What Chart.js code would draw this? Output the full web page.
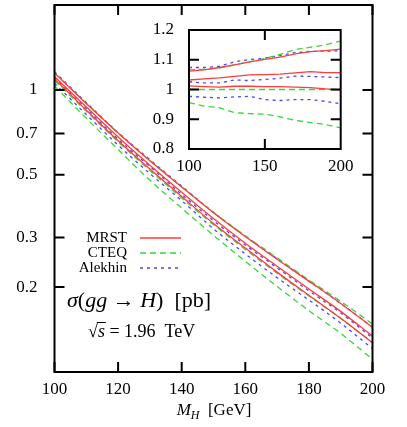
<!DOCTYPE html>
<html>
<head>
<meta charset="utf-8">
<script src="https://cdn.jsdelivr.net/npm/chart.js@4"></script>
<style>
body { margin: 0; background: #fff; }
#wrap { position: relative; width: 407px; height: 427px; }
#main { position: absolute; left: 0; top: 0; }
#inset { position: absolute; left: 140px; top: 15px; }
</style>
</head>
<body>
<div id="wrap">
  <canvas id="main" width="407" height="427"></canvas>
  <canvas id="inset" width="220" height="170"></canvas>
</div>
<script>
// Higgs mass points, GeV
let mh = [100, 110, 120, 130, 140, 150, 160, 170, 180, 190, 200]

// sigma(gg -> H) in pb
let mrstUp = [1.147, 0.895, 0.704, 0.561, 0.453, 0.367, 0.302, 0.251, 0.210, 0.175, 0.144]
let mrst = [1.115, 0.870, 0.681, 0.541, 0.434, 0.350, 0.286, 0.237, 0.197, 0.164, 0.134]
let mrstDn = [1.093, 0.848, 0.660, 0.524, 0.419, 0.336, 0.275, 0.226, 0.187, 0.155, 0.127]
let cteqUp = [1.151, 0.897, 0.702, 0.561, 0.453, 0.368, 0.304, 0.254, 0.212, 0.178, 0.148]
let cteq = [1.080, 0.840, 0.655, 0.518, 0.414, 0.333, 0.272, 0.224, 0.186, 0.155, 0.127]
let cteqDn = [1.033, 0.793, 0.615, 0.478, 0.381, 0.305, 0.247, 0.201, 0.165, 0.137, 0.111]
let alekUp = [1.160, 0.902, 0.706, 0.566, 0.456, 0.368, 0.303, 0.252, 0.210, 0.175, 0.144]
let alek = [1.108, 0.859, 0.669, 0.535, 0.426, 0.344, 0.282, 0.234, 0.194, 0.162, 0.132]
let alekDn = [1.055, 0.818, 0.637, 0.505, 0.405, 0.322, 0.262, 0.216, 0.180, 0.149, 0.121]

// ratios to CTEQ central
let rMrstUp = [1.062, 1.066, 1.074, 1.083, 1.093, 1.101, 1.109, 1.120, 1.127, 1.131, 1.136]
let rMrst = [1.032, 1.036, 1.039, 1.044, 1.049, 1.050, 1.052, 1.056, 1.060, 1.057, 1.057]
let rMrstDn = [1.012, 1.010, 1.008, 1.011, 1.011, 1.010, 1.010, 1.008, 1.006, 1.002, 0.998]
let rCteqUp = [1.066, 1.068, 1.072, 1.083, 1.093, 1.104, 1.118, 1.134, 1.142, 1.150, 1.163]
let rCteq = [1.000, 1.000, 1.000, 1.000, 1.000, 1.000, 1.000, 1.000, 1.000, 1.000, 1.000]
let rCteqDn = [0.956, 0.944, 0.939, 0.922, 0.919, 0.917, 0.908, 0.896, 0.889, 0.882, 0.871]
let rAlekUp = [1.074, 1.074, 1.078, 1.093, 1.101, 1.105, 1.114, 1.124, 1.128, 1.129, 1.130]
let rAlek = [1.026, 1.022, 1.022, 1.032, 1.030, 1.034, 1.038, 1.045, 1.044, 1.042, 1.040]
let rAlekDn = [0.977, 0.974, 0.972, 0.975, 0.977, 0.966, 0.963, 0.966, 0.966, 0.960, 0.952]

let xTicks = [100, 120, 140, 160, 180, 200]
let yTicks = [0.2, 0.3, 0.5, 0.7, 1]
let insetXTicks = [100, 150, 200]
let insetYTicks = [0.8, 0.9, 1, 1.1, 1.2]

let legendNames = ['MRST', 'CTEQ', 'Alekhin']

const RED = '#ff3b3b'
const GREEN = '#35d935'
const BLUE = '#4646ff'
const SERIF = '"Liberation Serif", "Times New Roman", serif'

function pts(ys) {
    return ys.map((y, i) => ({ x: mh[i], y: y }))
}

function line(ys, color, dash) {
    return {
        data: pts(ys),
        borderColor: color,
        borderWidth: 1.3,
        borderDash: dash,
        pointRadius: 0,
        fill: false,
        cubicInterpolationMode: 'monotone'
    }
}

let solid = [], dashed = [6, 4], dotted = [3, 4]

// black frame + inward ticks on all four sides
const frame = {
    id: 'frame',
    afterDatasetsDraw(chart, args, o) {
        let ctx = chart.ctx, a = chart.chartArea, sx = chart.scales.x, sy = chart.scales.y
        ctx.save()
        ctx.strokeStyle = '#000'
        ctx.lineWidth = 2
        ctx.beginPath()
        o.xt.forEach(v => {
            let p = sx.getPixelForValue(v)
            ctx.moveTo(p, a.bottom); ctx.lineTo(p, a.bottom - o.len)
            ctx.moveTo(p, a.top); ctx.lineTo(p, a.top + o.len)
        })
        o.yt.forEach(v => {
            let p = sy.getPixelForValue(v)
            ctx.moveTo(a.left, p); ctx.lineTo(a.left + o.len, p)
            ctx.moveTo(a.right, p); ctx.lineTo(a.right - o.len, p)
        })
        ctx.stroke()
        ctx.strokeRect(a.left, a.top, a.right - a.left, a.bottom - a.top)
        ctx.restore()
    }
}

function parts(ctx, x, y, list) {
    list.forEach(p => {
        ctx.font = p[1]
        ctx.fillText(p[0], x, y + (p[2] || 0))
        x += ctx.measureText(p[0]).width
    })
    return x
}

function partsWidth(ctx, list) {
    let w = 0
    list.forEach(p => { ctx.font = p[1]; w += ctx.measureText(p[0]).width })
    return w
}

// legend, labels and axis title of the main panel
const notes = {
    id: 'notes',
    afterDraw(chart) {
        let ctx = chart.ctx
        ctx.save()
        ctx.fillStyle = '#000'
        ctx.textBaseline = 'middle'
        ctx.textAlign = 'right'
        ctx.font = '15px ' + SERIF
        let cols = [RED, GREEN, BLUE], dashes = [solid, dashed, dotted]
        legendNames.forEach((n, i) => {
            let y = 238 + i * 15
            ctx.fillText(n, 127, y)
            ctx.beginPath()
            ctx.strokeStyle = cols[i]
            ctx.lineWidth = 1.3
            ctx.setLineDash(dashes[i])
            ctx.moveTo(140, y); ctx.lineTo(181, y)
            ctx.stroke()
        })
        ctx.setLineDash([])
        ctx.textAlign = 'left'
        ctx.textBaseline = 'alphabetic'

        let it = 'italic 22px ' + SERIF, up = '22px ' + SERIF
        parts(ctx, 67, 307, [['σ', it], ['(', up], ['gg', it], [' → ', up], ['H', it], [')', up], ['  [pb]', up]])

        let up2 = '18px ' + SERIF, it2 = 'italic 18px ' + SERIF
        let x0 = parts(ctx, 88, 337, [['√', up2]])
        let x1 = parts(ctx, x0, 337, [['s', it2]])
        parts(ctx, x1, 337, [[' = 1.96  TeV', up2]])
        ctx.beginPath()
        ctx.strokeStyle = '#000'
        ctx.lineWidth = 1
        ctx.moveTo(x0 - 1, 322.5); ctx.lineTo(x1 + 1, 322.5)
        ctx.stroke()

        let title = [['M', 'italic 17px ' + SERIF], ['H', 'italic 12px ' + SERIF, 4], ['  [GeV]', '17px ' + SERIF]]
        let w = partsWidth(ctx, title)
        parts(ctx, 214 - w / 2, 415, title)
        ctx.restore()
    }
}

const white = {
    id: 'white',
    beforeDraw(chart) {
        let a = chart.chartArea
        chart.ctx.save()
        chart.ctx.fillStyle = '#fff'
        chart.ctx.fillRect(a.left, a.top, a.right - a.left, a.bottom - a.top)
        chart.ctx.restore()
    }
}

new Chart('main', {
    type: 'line',
    data: {
        datasets: [
            line(mrstUp, RED, solid), line(mrst, RED, solid), line(mrstDn, RED, solid),
            line(cteqUp, GREEN, dashed), line(cteq, GREEN, dashed), line(cteqDn, GREEN, dashed),
            line(alekUp, BLUE, dotted), line(alek, BLUE, dotted), line(alekDn, BLUE, dotted)
        ]
    },
    options: {
        responsive: false,
        animation: false,
        devicePixelRatio: 1,
        layout: { padding: { left: 0, top: 5, right: 34.5, bottom: 0 } },
        plugins: {
            legend: { display: false },
            tooltip: { enabled: false },
            frame: { xt: xTicks, yt: yTicks, len: 10 }
        },
        scales: {
            x: {
                type: 'linear', min: 100, max: 200,
                afterBuildTicks: s => { s.ticks = xTicks.map(v => ({ value: v })) },
                afterFit: s => { s.height = 55 },
                grid: { display: false },
                border: { display: false },
                ticks: { color: '#000', padding: -1, maxRotation: 0, font: { family: SERIF, size: 17 } }
            },
            y: {
                type: 'logarithmic', min: 0.1, max: 2,
                afterBuildTicks: s => { s.ticks = yTicks.map(v => ({ value: v })) },
                afterFit: s => { s.width = 54.5; s.paddingTop = 0; s.paddingBottom = 0 },
                grid: { display: false },
                border: { display: false },
                ticks: { color: '#000', padding: 9, callback: v => String(v), font: { family: SERIF, size: 17 } }
            }
        }
    },
    plugins: [frame, notes]
})

new Chart('inset', {
    type: 'line',
    data: {
        datasets: [
            line(rMrstUp, RED, solid), line(rMrst, RED, solid), line(rMrstDn, RED, solid),
            line(rCteqUp, GREEN, dashed), line(rCteq, GREEN, dashed), line(rCteqDn, GREEN, dashed),
            line(rAlekUp, BLUE, dotted), line(rAlek, BLUE, dotted), line(rAlekDn, BLUE, dotted)
        ].map(d => Object.assign(d, { cubicInterpolationMode: 'default', tension: 0 }))
    },
    options: {
        responsive: false,
        animation: false,
        devicePixelRatio: 1,
        layout: { padding: { left: 0, top: 15, right: 19.3, bottom: 0 } },
        plugins: {
            legend: { display: false },
            tooltip: { enabled: false },
            frame: { xt: [150], yt: [0.9, 1, 1.1], len: 10 }
        },
        scales: {
            x: {
                type: 'linear', min: 100, max: 200,
                afterBuildTicks: s => { s.ticks = insetXTicks.map(v => ({ value: v })) },
                afterFit: s => { s.height = 36 },
                grid: { display: false },
                border: { display: false },
                ticks: { color: '#000', padding: -1, maxRotation: 0, font: { family: SERIF, size: 17 } }
            },
            y: {
                type: 'linear', min: 0.8, max: 1.2,
                afterBuildTicks: s => { s.ticks = insetYTicks.map(v => ({ value: v })) },
                afterFit: s => { s.width = 49; s.paddingTop = 0; s.paddingBottom = 0 },
                grid: { display: false },
                border: { display: false },
                ticks: { color: '#000', padding: 7, callback: v => String(v), font: { family: SERIF, size: 17 } }
            }
        }
    },
    plugins: [white, frame]
})
</script>
</body>
</html>
